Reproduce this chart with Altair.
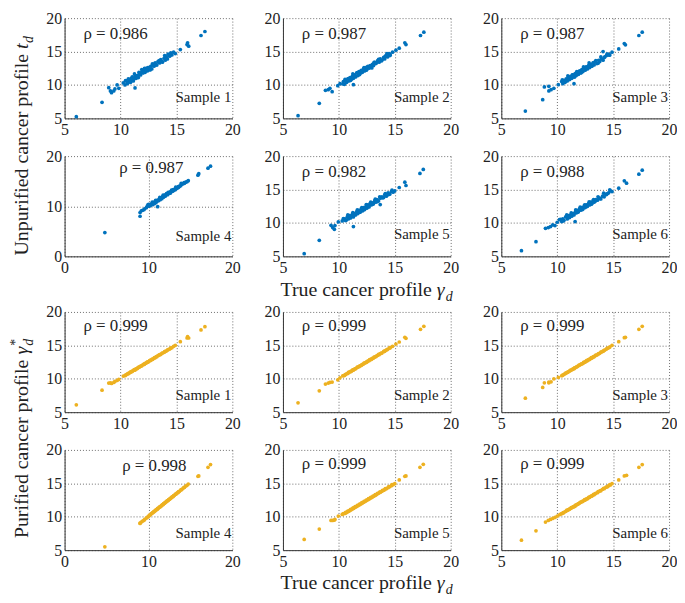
import altair as alt
import pandas as pd

FONT = "Liberation Serif"
TXT = "#222222"
BLUE = "#0072BD"
ORANGE = "#EDB120"
W, H = 169, 101

samples = ["Sample 1", "Sample 2", "Sample 3", "Sample 4", "Sample 5", "Sample 6"]
rho_unpurified = ["0.986", "0.987", "0.987", "0.987", "0.982", "0.988"]
rho_purified = ["0.999", "0.999", "0.999", "0.998", "0.999", "0.999"]

# ---- Sample 1 ----
true_1 = [6.05, 8.35, 8.95, 9.1, 9.2, 9.4, 9.5, 9.7, 9.85, 10.25, 10.4, 10.5, 10.6, 10.7, 10.75, 10.85, 10.9, 11.0,
          11.05, 11.15, 11.2, 11.3, 11.3, 11.4, 11.5, 11.6, 11.7, 11.8, 11.9, 12.0, 12.1, 12.2, 12.3, 12.4, 12.5, 12.6,
          12.7, 12.8, 12.9, 13.0, 13.1, 13.2, 13.35, 13.5, 13.6, 13.75, 13.9, 14.0, 14.1, 14.25, 14.4, 14.5, 14.6, 14.75,
          14.9, 15.35, 15.95, 16.0, 16.1, 17.2, 17.55,
          10.45, 10.65, 10.95, 11.25, 11.45, 11.55, 11.65, 11.85, 12.05, 12.15, 12.35, 12.45, 12.65, 12.85, 13.05, 13.25,
          13.45, 13.7, 13.95, 14.2, 14.45]
unpur_1 = [5.25, 7.4, 9.6, 9.1, 8.85, 9.1, 9.4, 10.0, 9.5, 10.3, 10.0, 10.6, 10.2, 10.9, 10.5, 10.7, 10.4, 10.8, 11.2,
           10.6, 10.9, 9.55, 11.3, 11.0, 11.4, 11.1, 11.7, 11.5, 12.3, 11.8, 12.2, 11.9, 12.5, 12.1, 12.6, 12.3, 12.8,
           12.4, 13.0, 12.8, 13.3, 13.0, 13.5, 13.3, 13.8, 13.4, 14.0, 13.7, 14.2, 14.6, 14.3, 14.8, 14.5, 14.9, 14.7,
           15.3, 16.05, 16.3, 15.8, 17.4, 18.0,
           10.65, 10.3, 11.0, 11.65, 11.35, 11.25, 11.9, 11.85, 11.85, 12.5, 12.3, 12.6, 12.25, 13.15, 13.15, 13.0,
           13.65, 13.55, 14.4, 13.9, 14.5]
pur_1 = [6.1, 8.3, 9.35, 9.4, 9.3, 9.45, 9.6, 9.75, 9.9, 10.4, 10.45, 10.6, 10.7, 10.8, 10.8, 10.95, 11.0, 11.1, 11.1,
         11.25, 11.3, 11.3, 11.4, 11.5, 11.55, 11.7, 11.75, 11.9, 11.95, 12.1, 12.15, 12.3, 12.35, 12.5, 12.55, 12.7,
         12.75, 12.9, 12.95, 13.1, 13.15, 13.3, 13.45, 13.6, 13.65, 13.85, 13.95, 14.1, 14.15, 14.35, 14.45, 14.6,
         14.65, 14.85, 15.0, 15.55, 16.1, 16.3, 16.1, 17.3, 17.8,
         10.55, 10.75, 11.05, 11.35, 11.5, 11.65, 11.75, 11.9, 12.15, 12.2, 12.45, 12.5, 12.75, 12.9, 13.15, 13.3,
         13.55, 13.8, 14.05, 14.3, 14.55]

# ---- Sample 2 ----
true_2 = [6.35, 8.25, 8.8, 9.05, 9.2, 9.4, 9.9, 10.1, 10.4, 10.5, 10.6, 10.7, 10.8, 10.9, 11.0, 11.1, 11.2, 11.3, 11.3,
          11.4, 11.5, 11.6, 11.7, 11.8, 11.9, 12.0, 12.1, 12.2, 12.3, 12.4, 12.5, 12.6, 12.7, 12.8, 12.9, 13.0, 13.1,
          13.2, 13.3, 13.45, 13.6, 13.7, 13.85, 14.0, 14.1, 14.2, 14.35, 14.5, 14.6, 14.8, 15.1, 15.4, 15.9, 16.0, 17.3,
          17.6,
          10.35, 10.55, 10.85, 11.05, 11.25, 11.45, 11.65, 11.85, 12.05, 12.25, 12.45, 12.55, 12.75, 12.95, 13.15,
          13.35, 13.55, 13.8, 14.05, 14.3, 14.55]
unpur_2 = [5.4, 7.25, 9.2, 9.3, 9.5, 9.0, 9.9, 10.2, 10.5, 10.1, 10.7, 10.4, 10.9, 10.6, 11.1, 10.8, 11.3, 10.05, 11.0,
           11.5, 11.2, 11.8, 11.4, 12.0, 11.7, 12.2, 11.9, 12.4, 12.1, 12.6, 12.3, 12.8, 12.5, 12.9, 12.7, 13.1, 12.9,
           13.4, 13.2, 13.6, 13.4, 13.9, 13.7, 14.1, 13.9, 14.4, 14.2, 14.7, 14.5, 14.9, 15.2, 15.5, 16.3, 16.05, 17.4,
           17.9,
           10.15, 10.85, 10.95, 10.7, 11.65, 11.35, 11.85, 11.55, 12.1, 12.6, 12.2, 12.7, 12.75, 12.55, 13.4, 13.3,
           13.85, 13.6, 14.15, 14.7, 14.4]
pur_2 = [6.4, 8.2, 9.2, 9.35, 9.45, 9.5, 9.85, 10.15, 10.45, 10.5, 10.65, 10.75, 10.8, 10.95, 11.05, 11.1, 11.25, 11.3,
         11.35, 11.45, 11.5, 11.65, 11.75, 11.8, 11.95, 12.0, 12.15, 12.2, 12.35, 12.4, 12.5, 12.65, 12.7, 12.85, 12.9,
         13.05, 13.1, 13.25, 13.3, 13.5, 13.6, 13.75, 13.85, 14.05, 14.1, 14.25, 14.4, 14.55, 14.65, 14.85, 15.2, 15.5,
         16.2, 16.05, 17.4, 17.85,
         10.45, 10.6, 10.95, 11.1, 11.35, 11.5, 11.75, 11.9, 12.1, 12.35, 12.5, 12.6, 12.85, 13.0, 13.25, 13.4, 13.65,
         13.85, 14.15, 14.35, 14.65]

# ---- Sample 3 ----
true_3 = [7.15, 8.7, 8.85, 9.25, 9.25, 9.45, 9.7, 10.1, 10.4, 10.5, 10.6, 10.7, 10.8, 10.9, 11.0, 11.1, 11.2, 11.3, 11.4,
          11.5, 11.5, 11.6, 11.7, 11.8, 11.9, 12.0, 12.1, 12.2, 12.3, 12.4, 12.5, 12.6, 12.7, 12.8, 12.9, 13.0, 13.1,
          13.2, 13.3, 13.4, 13.55, 13.7, 13.8, 13.95, 14.1, 14.1, 14.25, 14.4, 14.55, 14.7, 14.9, 15.5, 16.0, 16.1, 17.3,
          17.6,
          10.45, 10.75, 10.95, 11.15, 11.35, 11.55, 11.75, 11.95, 12.15, 12.35, 12.55, 12.65, 12.85, 13.05, 13.25,
          13.45, 13.65, 13.9, 14.2, 14.45, 14.65]
unpur_3 = [6.1, 7.8, 9.7, 9.8, 9.1, 9.3, 9.5, 10.05, 10.5, 10.2, 10.7, 10.4, 10.9, 10.6, 11.1, 10.8, 11.3, 11.0, 11.5,
           11.2, 10.2, 11.7, 11.4, 11.9, 11.6, 12.1, 11.8, 12.3, 12.0, 12.5, 12.2, 12.7, 12.4, 12.9, 12.6, 13.1, 12.8,
           13.3, 13.0, 13.5, 13.2, 13.7, 13.5, 13.9, 13.7, 15.0, 14.2, 14.4, 14.6, 14.5, 14.9, 15.4, 16.2, 16.0, 17.4,
           17.9,
           10.75, 10.55, 11.35, 11.1, 11.5, 11.2, 12.0, 11.95, 11.85, 12.7, 12.65, 12.5, 13.3, 12.8, 13.3, 13.65, 13.25,
           14.2, 14.1, 14.6, 14.45]
pur_3 = [7.1, 8.7, 9.4, 9.5, 9.4, 9.55, 10.0, 10.2, 10.45, 10.55, 10.65, 10.75, 10.85, 10.95, 11.05, 11.15, 11.25, 11.35,
         11.45, 11.5, 11.55, 11.65, 11.75, 11.85, 11.95, 12.05, 12.15, 12.25, 12.3, 12.45, 12.5, 12.65, 12.7, 12.85, 12.9,
         13.05, 13.1, 13.25, 13.3, 13.45, 13.55, 13.75, 13.8, 14.0, 14.1, 14.15, 14.3, 14.45, 14.6, 14.75, 15.0, 15.55,
         16.15, 16.2, 17.4, 17.85,
         10.5, 10.85, 11.0, 11.25, 11.4, 11.65, 11.8, 12.05, 12.2, 12.45, 12.6, 12.75, 12.9, 13.15, 13.3, 13.55, 13.7,
         14.0, 14.25, 14.55, 14.7]

# ---- Sample 4 ----
true_4 = [4.8, 9.0, 9.0, 9.15, 9.3, 9.55, 9.75, 9.95, 10.1, 10.2, 10.35, 10.5, 10.6, 10.7, 10.8, 10.9, 11.0, 11.1, 11.1,
          11.2, 11.3, 11.4, 11.5, 11.6, 11.7, 11.8, 11.9, 12.0, 12.1, 12.2, 12.3, 12.4, 12.5, 12.6, 12.7, 12.8, 12.9,
          13.0, 13.1, 13.2, 13.3, 13.4, 13.5, 13.6, 13.7, 13.85, 14.0, 14.15, 14.3, 14.45, 14.6, 14.75, 15.9, 16.0, 17.1,
          17.4,
          9.45, 9.85, 10.05, 10.25, 10.45, 10.65, 10.85, 11.05, 11.35, 11.55, 11.75, 11.95, 12.15, 12.35, 12.55, 12.75,
          12.95, 13.25, 13.55, 13.9, 14.25]
unpur_4 = [4.75, 8.0, 8.75, 9.1, 9.2, 9.5, 9.7, 10.3, 10.0, 10.2, 10.4, 10.3, 10.6, 10.5, 10.8, 10.7, 11.0, 9.9, 11.2,
           11.1, 11.4, 11.3, 11.6, 11.5, 11.9, 11.8, 12.1, 12.0, 12.3, 12.4, 12.3, 12.6, 12.7, 12.6, 12.9, 13.0, 13.0,
           13.2, 13.3, 13.3, 13.5, 13.6, 13.7, 13.8, 14.0, 14.1, 14.4, 14.5, 14.6, 14.8, 14.9, 15.1, 16.2, 16.5, 17.6,
           18.0,
           9.3, 10.0, 10.35, 10.2, 10.8, 10.75, 11.15, 11.1, 11.75, 11.6, 12.2, 12.2, 12.5, 12.75, 12.8, 13.2, 13.3,
           13.8, 13.9, 14.55, 14.7]
pur_4 = [5.5, 9.0, 9.05, 9.2, 9.35, 9.6, 9.8, 10.0, 10.2, 10.3, 10.45, 10.6, 10.7, 10.8, 10.9, 11.0, 11.1, 11.2, 11.25,
         11.3, 11.45, 11.5, 11.6, 11.75, 11.8, 11.95, 12.0, 12.15, 12.2, 12.35, 12.4, 12.55, 12.6, 12.75, 12.8, 12.95,
         13.0, 13.15, 13.2, 13.35, 13.4, 13.55, 13.6, 13.75, 13.8, 14.0, 14.1, 14.3, 14.4, 14.6, 14.7, 14.9, 16.05, 16.1,
         17.4, 17.8,
         9.45, 9.9, 10.1, 10.35, 10.55, 10.75, 10.95, 11.15, 11.45, 11.65, 11.85, 12.05, 12.3, 12.45, 12.65, 12.9,
         13.05, 13.4, 13.7, 14.05, 14.4]

# ---- Sample 5 ----
true_5 = [6.9, 8.25, 9.3, 9.45, 9.6, 9.65, 9.95, 10.3, 10.55, 10.65, 10.75, 10.85, 10.95, 11.0, 11.1, 11.2, 11.3, 11.3,
          11.4, 11.5, 11.6, 11.7, 11.8, 11.9, 12.0, 12.1, 12.2, 12.3, 12.4, 12.5, 12.6, 12.7, 12.8, 12.9, 13.0, 13.1,
          13.2, 13.3, 13.4, 13.55, 13.7, 13.7, 13.85, 14.0, 14.1, 14.25, 14.4, 14.55, 14.7, 14.85, 15.0, 15.4, 15.9, 16.0,
          17.25, 17.55,
          10.4, 10.6, 10.8, 11.05, 11.25, 11.45, 11.65, 11.85, 12.05, 12.25, 12.45, 12.65, 12.85, 13.05, 13.25, 13.45,
          13.65, 13.9, 14.15, 14.45, 14.75]
unpur_5 = [5.4, 7.4, 9.65, 9.3, 9.05, 9.6, 10.15, 10.3, 10.6, 10.4, 10.9, 10.6, 11.1, 10.8, 11.0, 11.3, 9.45, 10.9, 11.4,
           11.2, 11.7, 11.4, 11.9, 11.6, 12.1, 11.8, 12.3, 12.0, 12.4, 12.2, 12.7, 12.4, 12.9, 12.7, 13.0, 12.9, 13.3,
           13.1, 13.5, 13.3, 13.7, 12.75, 13.9, 13.8, 14.2, 14.0, 14.5, 14.3, 14.7, 14.6, 14.8, 15.3, 16.1, 15.6, 17.4,
           18.0,
           10.65, 10.35, 11.2, 10.75, 11.55, 11.25, 11.95, 11.6, 12.3, 12.0, 12.75, 12.45, 13.1, 12.8, 13.55, 13.2, 13.9,
           13.75, 14.4, 14.25, 14.9]
pur_5 = [6.6, 8.15, 9.45, 9.45, 9.5, 9.6, 10.1, 10.35, 10.5, 10.6, 10.7, 10.8, 10.9, 10.95, 11.05, 11.15, 11.3, 11.25,
         11.35, 11.45, 11.55, 11.65, 11.75, 11.85, 11.95, 12.05, 12.15, 12.25, 12.35, 12.45, 12.55, 12.65, 12.75, 12.85,
         12.95, 13.05, 13.15, 13.25, 13.35, 13.5, 13.65, 13.7, 13.8, 13.95, 14.05, 14.2, 14.35, 14.5, 14.65, 14.8, 14.95,
         15.5, 16.05, 16.1, 17.4, 17.85,
         10.45, 10.65, 10.85, 11.1, 11.3, 11.5, 11.7, 11.9, 12.1, 12.3, 12.5, 12.7, 12.9, 13.1, 13.3, 13.5, 13.7,
         13.95, 14.2, 14.5, 14.8]

# ---- Sample 6 ----
true_6 = [6.8, 8.1, 8.95, 9.2, 9.4, 9.6, 9.8, 10.0, 10.2, 10.4, 10.5, 10.6, 10.75, 10.9, 11.0, 11.1, 11.2, 11.3, 11.4,
          11.5, 11.6, 11.6, 11.7, 11.8, 11.9, 12.0, 12.1, 12.2, 12.3, 12.4, 12.5, 12.6, 12.7, 12.8, 12.9, 13.0, 13.1,
          13.2, 13.3, 13.45, 13.6, 13.75, 13.9, 14.05, 14.2, 14.35, 14.5, 14.6, 14.75, 14.9, 15.5, 16.0, 16.2, 17.3, 17.6,
          10.3, 10.55, 10.85, 11.05, 11.25, 11.45, 11.65, 11.85, 12.05, 12.25, 12.45, 12.65, 12.85, 13.05, 13.25, 13.4,
          13.65, 13.85, 14.15, 14.4, 14.7]
unpur_6 = [5.85, 7.2, 9.2, 9.3, 9.45, 9.7, 9.6, 10.1, 10.5, 10.2, 10.6, 10.4, 10.9, 10.6, 11.1, 10.8, 11.2, 11.0, 11.4,
           11.2, 10.2, 11.6, 11.5, 11.9, 11.7, 12.1, 11.9, 12.3, 12.1, 12.5, 12.3, 12.7, 12.5, 12.9, 12.7, 13.1, 12.9,
           13.3, 13.1, 13.5, 13.4, 13.7, 13.6, 14.0, 13.9, 14.3, 14.4, 14.5, 14.8, 14.7, 15.2, 16.3, 15.95, 17.3, 17.9,
           10.55, 10.3, 11.2, 10.85, 11.5, 11.3, 11.95, 11.6, 12.35, 12.0, 12.7, 12.45, 13.15, 12.8, 13.5, 13.25, 13.9,
           13.65, 14.45, 14.25, 14.95]
pur_6 = [6.5, 7.9, 9.2, 9.45, 9.6, 9.75, 9.9, 10.1, 10.3, 10.45, 10.55, 10.65, 10.8, 10.95, 11.05, 11.15, 11.25, 11.35,
         11.45, 11.5, 11.6, 11.65, 11.75, 11.85, 11.95, 12.05, 12.15, 12.25, 12.3, 12.45, 12.5, 12.65, 12.7, 12.85, 12.9,
         13.05, 13.1, 13.25, 13.3, 13.5, 13.6, 13.8, 13.9, 14.1, 14.2, 14.4, 14.5, 14.65, 14.75, 14.95, 15.5, 16.1, 16.2,
         17.4, 17.8,
         10.4, 10.6, 10.95, 11.1, 11.35, 11.5, 11.75, 11.9, 12.15, 12.3, 12.55, 12.7, 12.95, 13.1, 13.35, 13.45, 13.75,
         13.9, 14.25, 14.45, 14.8]

true_all = [true_1, true_2, true_3, true_4, true_5, true_6]
unpur_all = [unpur_1, unpur_2, unpur_3, unpur_4, unpur_5, unpur_6]
pur_all = [pur_1, pur_2, pur_3, pur_4, pur_5, pur_6]

x_ticks_normal = [5, 10, 15, 20]
x_ticks_wide = [0, 10, 20]


def panel(xs, ys, color, rho, sample, wide, y_zero, rho_pos, sample_base):
    n = min(len(xs), len(ys))
    df = pd.DataFrame({"x": xs[:n], "y": ys[:n]})
    xdom = [0, 20] if wide else [5, 20]
    xvals = x_ticks_wide if wide else x_ticks_normal
    ydom = [0, 20] if y_zero else [5, 20]
    yvals = [0, 10, 20] if y_zero else [5, 10, 15, 20]
    pts = alt.Chart(df).mark_circle(size=14, color=color, opacity=1).encode(
        x=alt.X("x:Q", scale=alt.Scale(domain=xdom, nice=False, zero=False),
                axis=alt.Axis(values=xvals, title=None)),
        y=alt.Y("y:Q", scale=alt.Scale(domain=ydom, nice=False, zero=False),
                axis=alt.Axis(values=yvals, title=None)),
    )
    rho_t = alt.Chart(pd.DataFrame({"t": ["ρ = " + rho]})).mark_text(
        align="left", baseline="middle", font=FONT, fontSize=17, color=TXT
    ).encode(text="t:N", x=alt.value(rho_pos[0]), y=alt.value(rho_pos[1]))
    samp = alt.Chart(pd.DataFrame({"t": [sample]})).mark_text(
        align="right", baseline="alphabetic", font=FONT, fontSize=15, color=TXT
    ).encode(text="t:N", x=alt.value(W - 1), y=alt.value(H - sample_base))
    return alt.layer(pts, rho_t, samp).properties(width=W, height=H)


def row(idx, group):
    charts = []
    for i in idx:
        wide = (i == 3)
        if group == "u":
            ch = panel(true_all[i], unpur_all[i], BLUE, rho_unpurified[i], samples[i], wide, wide,
                       (55, 12) if wide else (19, 16), 15 if wide else 17)
        else:
            ch = panel(true_all[i], pur_all[i], ORANGE, rho_purified[i], samples[i], wide, False,
                       (58, 16) if wide else (19, 14), 12)
        charts.append(ch)
    return alt.hconcat(*charts, spacing=24)


def ytitle(main, sym, sup, height, P):
    base = alt.Chart(pd.DataFrame({"k": [0]}))
    X = 15
    layers = [
        base.mark_text(text=main, angle=270, align="right", baseline="alphabetic", font=FONT,
                       fontSize=20, color=TXT).encode(x=alt.value(X), y=alt.value(P)),
        base.mark_text(text=sym, angle=270, align="left", baseline="alphabetic", font=FONT,
                       fontSize=20, fontStyle="italic", color=TXT, dx=5).encode(x=alt.value(X), y=alt.value(P)),
        base.mark_text(text="d", angle=270, align="left", baseline="alphabetic", font=FONT,
                       fontSize=14, fontStyle="italic", color=TXT, dx=5 + (6 if sym == "t" else 9), dy=5
                       ).encode(x=alt.value(X), y=alt.value(P)),
    ]
    if sup:
        layers.append(base.mark_text(text=sup, angle=270, align="left", baseline="alphabetic", font=FONT,
                                     fontSize=14, color=TXT, dx=14, dy=-8
                                     ).encode(x=alt.value(X), y=alt.value(P)))
    return alt.layer(*layers).properties(width=20, height=height)


def xtitle(height, P, base_y):
    base = alt.Chart(pd.DataFrame({"k": [0]}))
    return alt.layer(
        base.mark_text(text="True cancer profile", align="right", baseline="alphabetic", font=FONT,
                       fontSize=20, color=TXT).encode(x=alt.value(P), y=alt.value(base_y)),
        base.mark_text(text="γ", align="left", baseline="alphabetic", font=FONT, fontSize=20,
                       fontStyle="italic", color=TXT, dx=5).encode(x=alt.value(P), y=alt.value(base_y)),
        base.mark_text(text="d", align="left", baseline="alphabetic", font=FONT, fontSize=14,
                       fontStyle="italic", color=TXT, dx=14, dy=5).encode(x=alt.value(P), y=alt.value(base_y)),
    ).properties(width=600, height=height)


blockA = alt.hconcat(
    ytitle("Unpurified cancer profile", "t", None, 236, 36),
    alt.vconcat(row([0, 1, 2], "u"), row([3, 4, 5], "u"), spacing=11),
    spacing=10,
)
blockB = alt.hconcat(
    ytitle("Purified cancer profile", "γ", "*", 236, 48),
    alt.vconcat(row([0, 1, 2], "p"), row([3, 4, 5], "p"), spacing=11),
    spacing=10,
)

chart = alt.vconcat(
    blockA, xtitle(28, 422, 21), blockB, xtitle(25, 422, 20), spacing=0
).properties(padding=0).configure_view(stroke="transparent", strokeWidth=0).configure_axis(
    labelFont=FONT, labelFontSize=16, labelColor=TXT, labelPadding=3, labelFlush=False,
    labelOverlap=False, domainColor="#333333", domainWidth=1, ticks=False, tickSize=0,
    grid=True, gridColor="#6e6e6e", gridDash=[1, 2], gridWidth=1, gridOpacity=1,
)

chart.save("out.html", embed_options={"renderer": "svg", "actions": False})
